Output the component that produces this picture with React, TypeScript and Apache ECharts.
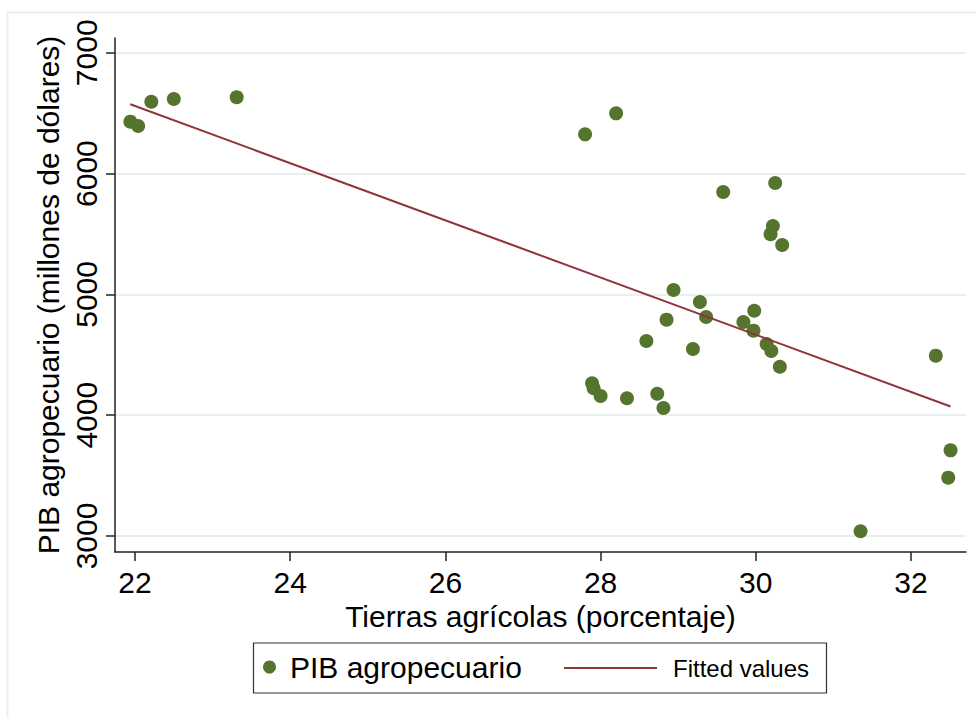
import React, { useEffect, useRef } from "react";
import * as echarts from "echarts";

// Tierras agrícolas (porcentaje)
const tierras: number[] = [
  21.94, 22.04, 22.21, 22.5, 23.31, 27.8, 28.2, 29.58, 30.25, 30.22, 30.19, 30.34,
  28.94, 29.28, 29.36, 28.85, 29.98, 29.84, 29.97, 30.14, 30.2, 30.31, 28.59, 29.19,
  27.89, 27.91, 28.0, 28.34, 28.73, 28.81, 32.32, 32.51, 32.48, 31.35,
];
// PIB agropecuario (millones de dólares)
const pib: number[] = [
  6430, 6394, 6595, 6618, 6632, 6325, 6499, 5848, 5922, 5566, 5498, 5409,
  5036, 4937, 4813, 4791, 4865, 4772, 4700, 4589, 4531, 4401, 4614, 4548,
  4264, 4223, 4159, 4140, 4178, 4060, 4493, 3709, 3483, 3039,
];
// Fitted values (line endpoints)
const fittedX: number[] = [21.94, 32.51];
const fittedY: number[] = [6574, 4072];

const xTicks: number[] = [22, 24, 26, 28, 30, 32];
const yTicks: number[] = [3000, 4000, 5000, 6000, 7000];

const FONT = "'Liberation Sans', Arial, Helvetica, sans-serif";
const GREEN = "#55752F";
const MAROON = "#90353B";

export default function App() {
  const ref = useRef<HTMLDivElement>(null);
  useEffect(() => {
    if (!ref.current) return;
    const chart = echarts.init(ref.current, undefined, { renderer: "svg" });
    const scatterData = tierras.map((x, i) => [x, pib[i]]);
    const fitData = fittedX.map((x, i) => [x, fittedY[i]]);
    chart.setOption({
      animation: false,
      backgroundColor: "#ffffff",
      textStyle: { fontFamily: FONT },
      grid: { left: 115, top: 38, right: 10, bottom: 165 },
      xAxis: {
        type: "value",
        min: 21.742,
        max: 32.709,
        name: "Tierras agrícolas (porcentaje)",
        nameLocation: "middle",
        nameGap: 43,
        nameTextStyle: { fontSize: 30, color: "#000", fontFamily: FONT },
        axisLine: { show: true, onZero: false, lineStyle: { color: "#222", width: 1.5 } },
        axisTick: { show: true, length: 9, customValues: xTicks, lineStyle: { color: "#222", width: 1.5 } },
        axisLabel: {
          customValues: xTicks,
          fontSize: 30,
          color: "#000",
          margin: 15,
          fontFamily: FONT,
          formatter: (v: number) => String(v),
        },
        splitLine: { show: false },
      },
      yAxis: {
        type: "value",
        min: 2867.5,
        max: 7122.5,
        name: "PIB agropecuario (millones de dólares)",
        nameLocation: "middle",
        nameGap: 50,
        nameTextStyle: { fontSize: 30, color: "#000", fontFamily: FONT },
        axisLine: { show: true, onZero: false, lineStyle: { color: "#222", width: 1.5 } },
        axisTick: { show: true, length: 9, customValues: yTicks, lineStyle: { color: "#222", width: 1.5 } },
        axisLabel: {
          customValues: yTicks,
          fontSize: 30,
          color: "#000",
          rotate: 90,
          margin: 14,
          fontFamily: FONT,
          formatter: (v: number) => String(v),
        },
        splitLine: { show: true, lineStyle: { color: "#e8eff1", width: 2 } },
      },
      legend: [
        {
          data: [{ name: "PIB agropecuario", icon: "circle" }],
          left: 263,
          top: 652,
          padding: 0,
          itemWidth: 13,
          itemHeight: 13,
          selectedMode: false,
          textStyle: { fontSize: 30, color: "#000", fontFamily: FONT, padding: [0, 0, 0, 9] },
        },
        {
          data: [{ name: "Fitted values", icon: "rect" }],
          left: 564,
          top: 656,
          padding: 0,
          itemWidth: 93,
          itemHeight: 2,
          selectedMode: false,
          textStyle: { fontSize: 24, color: "#000", fontFamily: FONT, padding: [0, 0, 0, 11] },
        },
      ],
      graphic: [
        {
          type: "rect",
          silent: true,
          shape: { x: 7.5, y: 12.5, width: 1000, height: 1000 },
          style: { fill: "none", stroke: "#e8eff1", lineWidth: 2 },
        },
        {
          type: "rect",
          silent: true,
          shape: { x: 253.5, y: 643, width: 573, height: 50 },
          style: { fill: "none", stroke: "#333", lineWidth: 1.2 },
        },
      ],
      series: [
        {
          name: "PIB agropecuario",
          type: "scatter",
          data: scatterData,
          symbol: "circle",
          symbolSize: 14,
          itemStyle: { color: GREEN, opacity: 1 },
        },
        {
          name: "Fitted values",
          type: "line",
          data: fitData,
          symbol: "none",
          showSymbol: false,
          itemStyle: { color: MAROON },
          lineStyle: { color: MAROON, width: 2 },
        },
      ],
    });
    return () => chart.dispose();
  }, []);
  return (
    <div
      ref={ref}
      style={{ position: "fixed", left: 0, top: 0, width: 976, height: 717 }}
    />
  );
}
